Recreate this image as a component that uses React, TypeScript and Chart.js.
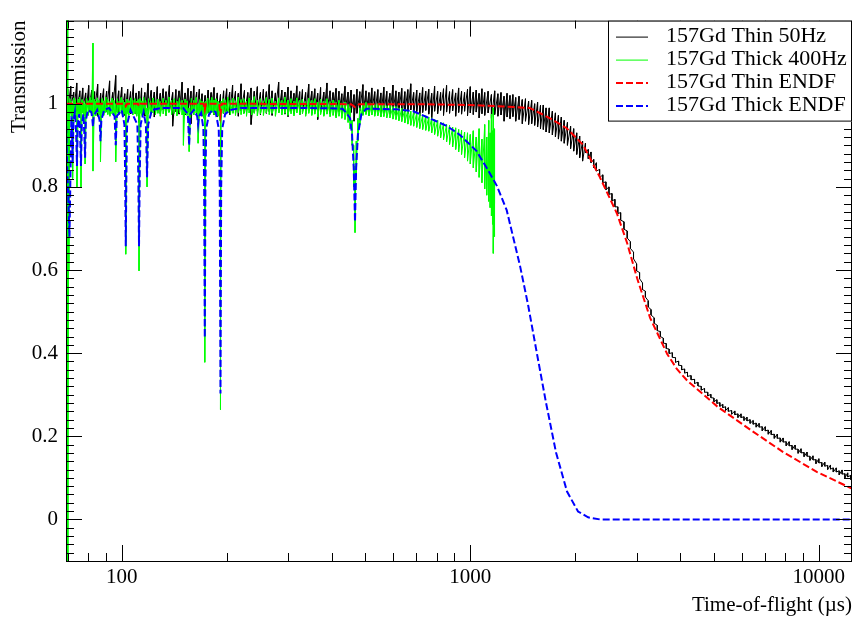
import React, { useEffect, useRef } from 'react';
import { Chart, registerables } from 'chart.js';

Chart.register(...registerables);

const FONT = '"Liberation Serif", "Times New Roman", serif';

const seriesLabels = ['157Gd Thin 50Hz', '157Gd Thick 400Hz', '157Gd Thin ENDF', '157Gd Thick ENDF'];
const seriesColors = ['#000000', '#00ff00', '#ff0000', '#0000ff'];

// Measured spectra, per time bin: [time-of-flight (us), upper value, lower value] of the noisy band
const thin50Hz: [number, number, number][] = [
  [70, 1.035, 0.985], [71.4, 1.042, 0.99], [72.8, 1.028, 0.978], [74.3, 1.05, 0.982], [75.8, 1.031, 0.975],
  [77.3, 1.038, 0.988], [78.8, 1.026, 0.972], [80.4, 1.044, 0.984], [82, 1.033, 0.979], [83.6, 1.029, 0.983],
  [85.3, 1.047, 0.97], [87, 1.025, 0.986], [88.7, 1.036, 0.977], [90.5, 1.03, 0.981], [92.3, 1.055, 0.974],
  [94.2, 1.027, 0.985], [96.1, 1.068, 0.98], [98, 1.031, 0.976], [100, 1.04, 0.984], [102, 1.024, 0.972],
  [104, 1.035, 0.981], [106, 1.029, 0.976], [108, 1.046, 0.987], [110, 1.026, 0.975], [112, 1.03, 0.955],
  [114, 1.038, 0.982], [116.5, 1.027, 0.97], [119, 1.049, 0.984], [121.5, 1.032, 0.977], [124, 1.028, 0.968],
  [126.5, 1.041, 0.983], [129, 1.025, 0.976], [131.5, 1.036, 0.985], [134, 1.029, 0.972], [137, 1.044, 0.98],
  [140, 1.027, 0.946], [143, 1.034, 0.981], [146, 1.031, 0.975], [149, 1.052, 0.986], [152, 1.026, 0.973],
  [155, 1.037, 0.98], [158, 1.03, 0.952], [161, 1.043, 0.984], [164, 1.028, 0.975], [167, 1.035, 0.982],
  [170, 1.024, 0.97], [173.5, 1.02, 0.962], [177, 1.033, 0.978], [180.5, 1.027, 0.984], [184, 1.039, 0.973],
  [188, 1.026, 0.968], [192, 1.022, 0.955], [196, 1.031, 0.977], [200, 1.036, 0.982], [204, 1.028, 0.974],
  [208, 1.045, 0.985], [212, 1.03, 0.976], [216, 1.025, 0.97], [220, 1.048, 0.983], [225, 1.032, 0.978],
  [230, 1.027, 0.986], [235, 1.038, 0.95], [240, 1.03, 0.979], [245, 1.041, 0.982], [250, 1.027, 0.974],
  [255, 1.035, 0.985], [260, 1.029, 0.977], [265, 1.046, 0.981], [270, 1.031, 0.972], [276, 1.026, 0.984],
  [282, 1.052, 0.978], [288, 1.033, 0.983], [294, 1.028, 0.975], [300, 1.04, 0.969], [306, 1.031, 0.982],
  [312, 1.025, 0.976], [318, 1.043, 0.985], [324, 1.029, 0.973], [330, 1.034, 0.98], [337, 1.027, 0.975],
  [344, 1.047, 0.984], [351, 1.03, 0.977], [358, 1.036, 0.982], [365, 1.025, 0.962], [372, 1.039, 0.98],
  [380, 1.028, 0.974], [388, 1.05, 0.983], [396, 1.031, 0.976], [404, 1.027, 0.985], [412, 1.037, 0.97],
  [420, 1.03, 0.981], [428, 1.024, 0.976], [437, 1.042, 0.984], [446, 1.028, 0.973], [455, 1.033, 0.979],
  [464, 1.022, 0.958], [473, 1.035, 0.977], [482, 1.029, 0.983], [492, 1.046, 0.975], [502, 1.031, 0.98],
  [512, 1.027, 0.972], [522, 1.038, 0.984], [532, 1.029, 0.976], [543, 1.034, 0.982], [554, 1.026, 0.97],
  [565, 1.04, 0.978], [576, 1.03, 0.984], [588, 1.025, 0.975], [600, 1.045, 0.981], [612, 1.031, 0.973],
  [624, 1.028, 0.983], [636, 1.037, 0.968], [649, 1.029, 0.98], [662, 1.034, 0.976], [675, 1.048, 0.985],
  [688, 1.027, 0.974], [702, 1.033, 0.981], [716, 1.026, 0.97], [730, 1.039, 0.979], [745, 1.03, 0.984],
  [760, 1.035, 0.975], [775, 1.025, 0.966], [790, 1.042, 0.982], [806, 1.03, 0.976], [822, 1.027, 0.984],
  [838, 1.036, 0.972], [855, 1.044, 0.98], [872, 1.029, 0.977], [890, 1.034, 0.983], [908, 1.026, 0.97],
  [926, 1.038, 0.979], [944, 1.03, 0.975], [963, 1.027, 0.982], [982, 1.035, 0.971], [1000, 1.041, 0.978],
  [1020, 1.028, 0.974], [1040, 1.033, 0.98], [1060, 1.025, 0.966], [1080, 1.036, 0.976], [1100, 1.027, 0.972],
  [1125, 1.03, 0.978], [1150, 1.022, 0.965], [1175, 1.031, 0.974], [1200, 1.024, 0.97], [1225, 1.027, 0.973],
  [1250, 1.018, 0.958], [1275, 1.025, 0.968], [1300, 1.02, 0.964], [1325, 1.022, 0.969], [1350, 1.015, 0.958],
  [1380, 1.018, 0.962], [1410, 1.01, 0.952], [1440, 1.012, 0.958], [1470, 1.006, 0.95], [1500, 1.008, 0.952],
  [1530, 1.0, 0.948], [1560, 1.004, 0.944], [1590, 0.996, 0.94], [1620, 0.997, 0.938], [1650, 0.99, 0.932],
  [1685, 0.99, 0.93], [1720, 0.982, 0.925], [1755, 0.978, 0.92], [1790, 0.972, 0.915], [1825, 0.968, 0.91],
  [1860, 0.96, 0.905], [1900, 0.955, 0.9], [1940, 0.946, 0.892], [1980, 0.94, 0.886], [2020, 0.93, 0.878],
  [2060, 0.922, 0.87], [2100, 0.91, 0.862], [2140, 0.905, 0.882], [2180, 0.89, 0.868], [2220, 0.884, 0.858],
  [2260, 0.866, 0.846], [2300, 0.858, 0.838], [2350, 0.842, 0.822], [2400, 0.829, 0.81], [2450, 0.812, 0.793],
  [2500, 0.8, 0.782], [2550, 0.784, 0.766], [2600, 0.77, 0.752], [2650, 0.752, 0.736], [2700, 0.738, 0.72],
  [2760, 0.716, 0.698], [2820, 0.694, 0.677], [2880, 0.668, 0.652], [2940, 0.643, 0.627], [3000, 0.615, 0.598],
  [3060, 0.594, 0.579], [3120, 0.569, 0.553], [3180, 0.549, 0.535], [3240, 0.526, 0.511], [3300, 0.505, 0.492],
  [3370, 0.485, 0.472], [3440, 0.467, 0.454], [3510, 0.452, 0.44], [3580, 0.436, 0.424], [3650, 0.423, 0.411],
  [3720, 0.41, 0.399], [3800, 0.401, 0.39], [3880, 0.389, 0.378], [3960, 0.381, 0.371], [4040, 0.37, 0.36],
  [4120, 0.362, 0.352], [4200, 0.354, 0.344], [4300, 0.346, 0.336], [4400, 0.337, 0.327], [4500, 0.33, 0.321],
  [4600, 0.32, 0.311], [4700, 0.315, 0.306], [4800, 0.306, 0.297], [4900, 0.301, 0.293], [5000, 0.292, 0.283],
  [5100, 0.288, 0.279], [5200, 0.281, 0.272], [5300, 0.277, 0.269], [5400, 0.271, 0.262], [5500, 0.269, 0.26],
  [5620, 0.262, 0.253], [5740, 0.261, 0.252], [5860, 0.254, 0.245], [5980, 0.254, 0.245], [6100, 0.247, 0.238],
  [6220, 0.246, 0.237], [6350, 0.24, 0.231], [6480, 0.238, 0.229], [6610, 0.232, 0.222], [6740, 0.231, 0.222],
  [6880, 0.223, 0.213], [7020, 0.223, 0.213], [7160, 0.215, 0.205], [7300, 0.214, 0.204], [7450, 0.205, 0.195],
  [7600, 0.205, 0.195], [7750, 0.196, 0.186], [7900, 0.196, 0.186], [8060, 0.187, 0.177], [8220, 0.187, 0.177],
  [8380, 0.178, 0.168], [8550, 0.179, 0.169], [8720, 0.169, 0.159], [8890, 0.17, 0.16], [9070, 0.161, 0.151],
  [9250, 0.162, 0.152], [9430, 0.152, 0.142], [9620, 0.153, 0.143], [9810, 0.144, 0.134], [10000, 0.146, 0.136],
  [10200, 0.137, 0.127], [10400, 0.138, 0.128], [10600, 0.13, 0.12], [10800, 0.131, 0.121], [11000, 0.124, 0.114],
  [11220, 0.124, 0.114], [11440, 0.117, 0.107], [11660, 0.119, 0.109], [11880, 0.11, 0.1], [12100, 0.112, 0.102],
  [12340, 0.106, 0.096], [12450, 0.108, 0.098],
];

const thick400Hz: [number, number, number][] = [
  [69.3, 1.3, -0.2], [69.6, 1.3, -0.2], [69.9, 1.3, -0.2], [70.1, 1.3, -0.2], [70.5, 1.0, 0.6],
  [71.0, 1.012, 0.975], [71.7, 1.006, 0.97], [72.3, 1.0, 0.82], [72.9, 1.014, 0.978], [73.6, 1.008, 0.972],
  [74.4, 1.0, 0.8], [75.0, 1.011, 0.976], [75.7, 1.016, 0.973], [76.4, 1.0, 0.8], [77.0, 1.01, 0.978],
  [77.8, 1.005, 0.97], [78.5, 1.0, 0.855], [79.2, 1.013, 0.977], [80.2, 1.007, 0.972], [81.2, 1.015, 0.979],
  [82.0, 1.009, 0.974], [82.7, 1.146, 0.838], [83.5, 1.011, 0.976], [84.3, 1.006, 0.971], [85.1, 1.014, 0.978],
  [86.0, 1.008, 0.973], [86.9, 1.0, 0.86], [87.8, 1.012, 0.977], [88.8, 1.007, 0.972], [90.0, 1.016, 0.979],
  [91.2, 1.01, 0.974], [92.5, 1.005, 0.97], [93.8, 1.013, 0.976], [95.0, 1.008, 0.972], [96.1, 1.0, 0.86],
  [97.2, 1.012, 0.978], [98.4, 1.006, 0.973], [99.7, 1.015, 0.977], [101.0, 1.009, 0.971], [102.0, 1.004, 0.975],
  [102.7, 0.99, 0.638], [103.5, 1.011, 0.976], [104.8, 1.007, 0.972], [106.2, 1.014, 0.979], [107.6, 1.008, 0.973],
  [109.0, 1.012, 0.976], [110.4, 1.006, 0.97], [111.4, 1.01, 0.975], [112.1, 0.99, 0.598], [112.9, 1.013, 0.977],
  [114.2, 1.007, 0.972], [115.6, 1.015, 0.978], [117.0, 1.009, 0.973], [118.2, 0.99, 0.8], [119.4, 1.012, 0.976],
  [121.0, 1.006, 0.971], [123.0, 1.014, 0.978], [125.0, 1.008, 0.974], [127.0, 1.011, 0.977], [129.0, 1.005, 0.97],
  [131.5, 1.013, 0.976], [134.0, 1.008, 0.972], [136.5, 1.016, 0.979], [139.0, 1.009, 0.974], [141.5, 1.012, 0.977],
  [144.0, 1.006, 0.971], [146.5, 1.014, 0.978], [149.0, 1.008, 0.973], [150.3, 1.0, 0.9], [152.0, 1.011, 0.976],
  [154.0, 1.007, 0.972], [156.1, 0.99, 0.885], [158.5, 1.013, 0.977], [161.0, 1.008, 0.973], [163.5, 1.015, 0.978],
  [165.6, 1.0, 0.905], [167.8, 1.01, 0.975], [170.0, 1.006, 0.971], [172.0, 1.004, 0.965], [173.1, 0.99, 0.378],
  [174.2, 1.006, 0.972], [176.5, 1.013, 0.977], [179.0, 1.008, 0.973], [181.5, 1.015, 0.979], [184.0, 1.009, 0.974],
  [186.5, 1.012, 0.976], [189.0, 1.006, 0.97], [191.0, 1.0, 0.96], [192.0, 0.99, 0.264], [193.0, 1.006, 0.97],
  [195.5, 1.012, 0.977], [198.5, 1.008, 0.973], [201.5, 1.015, 0.978], [205, 1.009, 0.974], [208.5, 1.013, 0.977],
  [212, 1.007, 0.972], [216, 1.016, 0.979], [220, 1.01, 0.974], [224, 1.012, 0.976], [228, 1.006, 0.97],
  [232, 1.014, 0.978], [236, 1.008, 0.973], [240, 1.017, 0.977], [245, 1.009, 0.971], [250, 1.012, 0.976],
  [255, 1.007, 0.972], [260, 1.015, 0.978], [265, 1.01, 0.974], [270, 1.013, 0.977], [276, 1.006, 0.97],
  [282, 1.014, 0.978], [288, 1.008, 0.973], [294, 1.016, 0.977], [300, 1.009, 0.972], [306, 1.012, 0.976],
  [312, 1.006, 0.971], [318, 1.014, 0.978], [324, 1.008, 0.973], [330, 1.011, 0.976], [337, 1.005, 0.97],
  [344, 1.013, 0.977], [351, 1.008, 0.972], [358, 1.012, 0.975], [365, 1.004, 0.968], [372, 1.011, 0.974],
  [380, 1.006, 0.97], [388, 1.012, 0.975], [396, 1.005, 0.969], [404, 1.009, 0.972], [412, 1.003, 0.966],
  [420, 1.008, 0.97], [428, 1.002, 0.965], [437, 1.004, 0.962], [446, 0.998, 0.955], [452, 0.99, 0.94],
  [458, 0.96, 0.9], [463, 0.9, 0.8], [467, 0.85, 0.69], [471, 0.91, 0.83], [476, 0.965, 0.91],
  [482, 0.99, 0.95], [492, 1.0, 0.972], [502, 1.003, 0.974], [512, 0.999, 0.971], [522, 1.001, 0.973],
  [532, 0.998, 0.97], [543, 1.0, 0.971], [554, 0.997, 0.968], [565, 0.998, 0.969], [576, 0.995, 0.966],
  [588, 0.996, 0.966], [600, 0.993, 0.963], [612, 0.993, 0.962], [624, 0.99, 0.959], [636, 0.989, 0.957],
  [649, 0.987, 0.954], [662, 0.985, 0.951], [675, 0.982, 0.948], [688, 0.981, 0.946], [702, 0.978, 0.943],
  [716, 0.976, 0.94], [730, 0.973, 0.938], [745, 0.971, 0.936], [760, 0.968, 0.934], [775, 0.966, 0.93],
  [790, 0.962, 0.926], [806, 0.96, 0.922], [822, 0.956, 0.918], [838, 0.954, 0.913], [855, 0.95, 0.908],
  [872, 0.948, 0.902], [890, 0.944, 0.896], [908, 0.942, 0.89], [926, 0.938, 0.884], [944, 0.936, 0.878],
  [963, 0.932, 0.87], [982, 0.93, 0.862], [1000, 0.926, 0.855], [1020, 0.935, 0.846], [1040, 0.92, 0.836],
  [1060, 0.94, 0.823], [1080, 0.915, 0.81], [1100, 0.95, 0.795], [1115, 0.92, 0.78], [1130, 0.96, 0.765],
  [1140, 0.93, 0.75], [1150, 0.975, 0.73], [1158, 0.935, 0.71], [1164, 0.99, 0.64], [1170, 0.94, 0.68],
  [1176, 0.91, 0.76],
];

// ENDF calculations: [time-of-flight (us), transmission]
const thinEndf: [number, number][] = [
  [69.2, 1.0], [101.8, 1.0], [102.7, 0.994], [103.6, 1.0], [111.2, 1.0], [112.1, 0.994], [113.0, 1.0],
  [171.7, 1.0], [173.1, 0.985], [174.5, 1.0], [190.4, 1.0], [192.0, 0.973], [193.6, 1.0], [455, 0.999],
  [467, 0.992], [480, 0.999], [700, 0.999], [1000, 0.997], [1200, 0.994], [1480, 0.99], [1694, 0.965],
  [1891, 0.941], [2107, 0.901], [2355, 0.823], [2635, 0.736], [2818, 0.665], [3011, 0.58], [3280, 0.485],
  [3672, 0.398], [3914, 0.362], [4190, 0.334], [5108, 0.272], [6353, 0.216], [7900, 0.162], [9890, 0.114],
  [12450, 0.074],
];

const thickEndf: [number, number][] = [
  [69.2, 0.97], [69.8, 0.84], [70.8, 0.68], [71.3, 0.84], [71.7, 0.97], [72.0, 0.94], [72.3, 0.86], [72.7, 0.96],
  [73.4, 0.98], [74.0, 0.93], [74.4, 0.85], [74.8, 0.95], [75.5, 0.975], [76.0, 0.92], [76.4, 0.85], [76.8, 0.95],
  [77.6, 0.975], [78.1, 0.93], [78.5, 0.87], [78.9, 0.96], [80.0, 0.985], [81.8, 0.98], [82.3, 0.965], [82.7, 0.945],
  [83.1, 0.97], [85.0, 0.985], [86.4, 0.96], [86.9, 0.91], [87.4, 0.96], [89.0, 0.985], [92.0, 0.99], [95.4, 0.97],
  [96.1, 0.9], [96.8, 0.97], [100.0, 0.985], [101.8, 0.95], [102.3, 0.82], [102.7, 0.657], [103.1, 0.82], [103.6, 0.95],
  [106.0, 0.985], [110.9, 0.95], [111.6, 0.82], [112.1, 0.657], [112.6, 0.82], [113.3, 0.95], [115.5, 0.98], [117.3, 0.95],
  [118.2, 0.823], [119.1, 0.95], [122.0, 0.985], [130, 0.99], [150, 0.99], [154.8, 0.975], [156.1, 0.9], [157.4, 0.975],
  [161, 0.985], [164.6, 0.97], [165.6, 0.95], [166.6, 0.97], [169, 0.978], [171.5, 0.94], [172.4, 0.8], [173.1, 0.437],
  [173.8, 0.8], [174.7, 0.94], [178, 0.975], [182, 0.985], [186, 0.98], [189.8, 0.94], [191.1, 0.8], [192.0, 0.303],
  [192.9, 0.8], [194.2, 0.94], [198, 0.975], [205, 0.985], [220, 0.99], [300, 0.99], [400, 0.989], [430, 0.988],
  [441, 0.978], [452, 0.965], [458, 0.925], [463, 0.846], [467, 0.716], [470.5, 0.846], [476, 0.925], [487, 0.975],
  [503, 0.988], [615, 0.9866], [686, 0.982], [766, 0.9646], [855, 0.947], [934, 0.925], [1043, 0.886], [1114, 0.846],
  [1191, 0.803], [1272, 0.744], [1389, 0.61], [1465, 0.516], [1554, 0.398], [1650, 0.28], [1762, 0.161], [1895, 0.067],
  [2038, 0.019], [2178, 0.005], [2357, 0.0], [12450, 0.0],
];

const xMajorTicks = [100, 1000, 10000];
const xMinorTicks = [70, 80, 90, 200, 300, 400, 500, 600, 700, 800, 900, 2000, 3000, 4000, 5000, 6000, 7000, 8000, 9000];
const yMajorTicks = [0, 0.2, 0.4, 0.6, 0.8, 1];
const yMinorStep = 0.02;
const X_MIN = 69.2;
const X_MAX = 12450;
const Y_MIN = -0.1;
const Y_MAX = 1.2;

const framePlugin = {
  id: 'rootFrame',
  afterDatasetsDraw(chart: any) {
    const { ctx, chartArea: a, scales } = chart;
    const x = scales.x;
    const y = scales.y;
    const MAJ = 16;
    const MIN = 8;
    ctx.save();
    ctx.strokeStyle = '#000';
    ctx.lineWidth = 1;
    ctx.setLineDash([]);
    ctx.beginPath();
    const xTick = (v: number, len: number) => {
      const px = Math.round(x.getPixelForValue(v)) + 0.5;
      ctx.moveTo(px, a.bottom);
      ctx.lineTo(px, a.bottom - len);
      ctx.moveTo(px, a.top);
      ctx.lineTo(px, a.top + len);
    };
    const yTick = (v: number, len: number) => {
      const py = Math.round(y.getPixelForValue(v)) + 0.5;
      ctx.moveTo(a.left, py);
      ctx.lineTo(a.left + len, py);
      ctx.moveTo(a.right, py);
      ctx.lineTo(a.right - len, py);
    };
    xMajorTicks.forEach((v) => xTick(v, MAJ));
    xMinorTicks.forEach((v) => xTick(v, MIN));
    yMajorTicks.forEach((v) => yTick(v, MAJ));
    for (let k = Math.ceil(Y_MIN / yMinorStep); k * yMinorStep <= Y_MAX + 1e-9; k++) {
      const v = k * yMinorStep;
      if (yMajorTicks.some((m) => Math.abs(m - v) < 1e-6)) continue;
      yTick(v, MIN);
    }
    ctx.stroke();
    ctx.strokeRect(a.left + 0.5, a.top + 0.5, a.right - a.left - 1, a.bottom - a.top);
    ctx.restore();
  },
};

const legendPlugin = {
  id: 'rootLegend',
  afterDraw(chart: any) {
    const { ctx, chartArea: a } = chart;
    const w = 244;
    const h = 101;
    const left = a.right - w;
    const top = a.top;
    ctx.save();
    ctx.fillStyle = '#ffffff';
    ctx.fillRect(left, top, w, h);
    ctx.strokeStyle = '#000';
    ctx.lineWidth = 1;
    ctx.setLineDash([]);
    ctx.strokeRect(left + 0.5, top + 0.5, w - 1, h - 1);
    chart.data.datasets.forEach((ds: any, i: number) => {
      const cy = top + 16 + i * 23;
      ctx.beginPath();
      ctx.setLineDash(ds.borderDash || []);
      ctx.strokeStyle = ds.borderColor;
      ctx.lineWidth = ds.borderWidth;
      ctx.moveTo(left + 8, cy + 0.5);
      ctx.lineTo(left + 40, cy + 0.5);
      ctx.stroke();
      ctx.setLineDash([]);
      ctx.fillStyle = '#000';
      ctx.font = `22px ${FONT}`;
      ctx.textBaseline = 'middle';
      ctx.textAlign = 'left';
      ctx.fillText(ds.label, left + 58, cy);
    });
    ctx.restore();
  },
};

const toXY = (arr: [number, number][]) => arr.map(([x, y]) => ({ x, y }));
// each measured bin is drawn as a vertical stroke from its upper to its lower value
const bandToXY = (arr: [number, number, number][]) => {
  const out: { x: number; y: number }[] = [];
  arr.forEach(([x, hi, lo]) => {
    out.push({ x, y: hi });
    out.push({ x, y: lo });
  });
  return out;
};

export default function App() {
  const ref = useRef<HTMLCanvasElement>(null);

  useEffect(() => {
    document.body.style.margin = '0';
    const canvas = ref.current;
    if (!canvas) return;
    const chart = new Chart(canvas, {
      type: 'line',
      data: {
        datasets: [
          { label: seriesLabels[0], data: bandToXY(thin50Hz), borderColor: seriesColors[0], borderWidth: 1, pointRadius: 0, order: 4 },
          { label: seriesLabels[1], data: bandToXY(thick400Hz), borderColor: seriesColors[1], borderWidth: 1, pointRadius: 0, order: 3 },
          { label: seriesLabels[2], data: toXY(thinEndf), borderColor: seriesColors[2], borderWidth: 2, borderDash: [7, 3], pointRadius: 0, order: 2 },
          { label: seriesLabels[3], data: toXY(thickEndf), borderColor: seriesColors[3], borderWidth: 2, borderDash: [7, 3], pointRadius: 0, order: 1 },
        ],
      } as any,
      options: {
        animation: false,
        responsive: false,
        maintainAspectRatio: false,
        events: [],
        layout: { padding: { top: 10, right: 9, left: 0, bottom: 0 } },
        plugins: { legend: { display: false }, tooltip: { enabled: false } },
        elements: { line: { tension: 0, fill: false } },
        scales: {
          x: {
            type: 'logarithmic',
            min: X_MIN,
            max: X_MAX,
            grid: { display: false, drawTicks: false },
            border: { display: false },
            afterBuildTicks: (s: any) => {
              s.ticks = xMajorTicks.map((v) => ({ value: v }));
            },
            afterFit: (s: any) => {
              s.height = 59;
            },
            ticks: {
              autoSkip: false,
              maxRotation: 0,
              minRotation: 0,
              padding: 4,
              color: '#000',
              font: { family: FONT, size: 21 },
              callback: (v: any) => String(v),
            },
            title: {
              display: true,
              text: 'Time-of-flight (µs)',
              align: 'end',
              color: '#000',
              font: { family: FONT, size: 21 },
              padding: { top: 0, bottom: 2 },
            },
          },
          y: {
            type: 'linear',
            min: Y_MIN,
            max: Y_MAX,
            grid: { display: false, drawTicks: false },
            border: { display: false },
            afterBuildTicks: (s: any) => {
              s.ticks = yMajorTicks.map((v) => ({ value: v }));
            },
            afterFit: (s: any) => {
              s.width = 66;
            },
            ticks: {
              autoSkip: false,
              padding: 8,
              color: '#000',
              font: { family: FONT, size: 21 },
              callback: (v: any) => String(Math.round(Number(v) * 10) / 10),
            },
            title: {
              display: true,
              text: 'Transmission',
              align: 'end',
              color: '#000',
              font: { family: FONT, size: 21 },
              padding: { top: 7, bottom: 0 },
            },
          },
        },
      } as any,
      plugins: [framePlugin, legendPlugin],
    });
    return () => chart.destroy();
  }, []);

  return (
    <div style={{ width: 861, height: 620, overflow: 'hidden' }}>
      <canvas ref={ref} width={861} height={620} style={{ display: 'block', width: 861, height: 620 }} />
    </div>
  );
}
